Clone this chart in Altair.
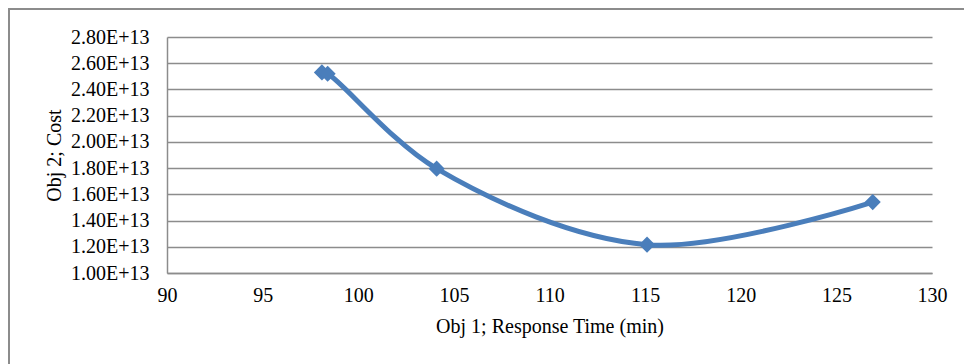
import altair as alt
import pandas as pd

response_time = [98.1, 98.4, 104.1, 115.1, 126.9]
cost = [2.53e13, 2.52e13, 1.796e13, 1.216e13, 1.541e13]
x_ticks = [90, 95, 100, 105, 110, 115, 120, 125, 130]
y_ticks = [1.0e13, 1.2e13, 1.4e13, 1.6e13, 1.8e13, 2.0e13, 2.2e13, 2.4e13, 2.6e13, 2.8e13]

df = pd.DataFrame({"t": response_time, "c": cost})

FONT = "Liberation Serif"
GRID = "#8c8c8c"
BLUE = "#4a7ebb"

x = alt.X("t:Q", scale=alt.Scale(domain=[90, 130], nice=False, zero=False),
          axis=alt.Axis(values=x_ticks, title="Obj 1; Response Time (min)", grid=False,
                        ticks=False, labelPadding=12, titlePadding=11, labelFlush=False,
                        domainColor=GRID, domainWidth=1.5))
y = alt.Y("c:Q", scale=alt.Scale(domain=[1.0e13, 2.8e13], nice=False, zero=False),
          axis=alt.Axis(values=y_ticks, title="Obj 2; Cost", grid=True, gridColor=GRID,
                        gridWidth=1.5, ticks=False, labelPadding=18, titlePadding=6,
                        labelFlush=False, domainColor=GRID, domainWidth=1.5,
                        labelExpr="format(datum.value/1e13, '.2f') + 'E+13'"))

frame = alt.Chart(df).mark_rect(fill=None, stroke=GRID, strokeWidth=1.5).encode(
    x=alt.value(-158), x2=alt.value(840), y=alt.value(-28), y2=alt.value(420))

line = alt.Chart(df).mark_line(color=BLUE, strokeWidth=5, interpolate="catmull-rom").encode(x=x, y=y)
pts = alt.Chart(df).mark_point(shape="diamond", filled=True, color=BLUE, size=260, opacity=1).encode(x=x, y=y)

chart = alt.layer(frame, line, pts).properties(
    width=765, height=236,
    autosize=alt.AutoSizeParams(type="none"),
    padding={"left": 167, "top": 37, "right": 32, "bottom": 91},
    background="white",
).configure_view(stroke=None).configure_axis(
    labelFont=FONT, titleFont=FONT, labelFontSize=20, titleFontSize=20,
    titleFontWeight="normal", labelColor="black", titleColor="black",
)

chart.save("out.html", embed_options={"renderer": "svg", "actions": False})
